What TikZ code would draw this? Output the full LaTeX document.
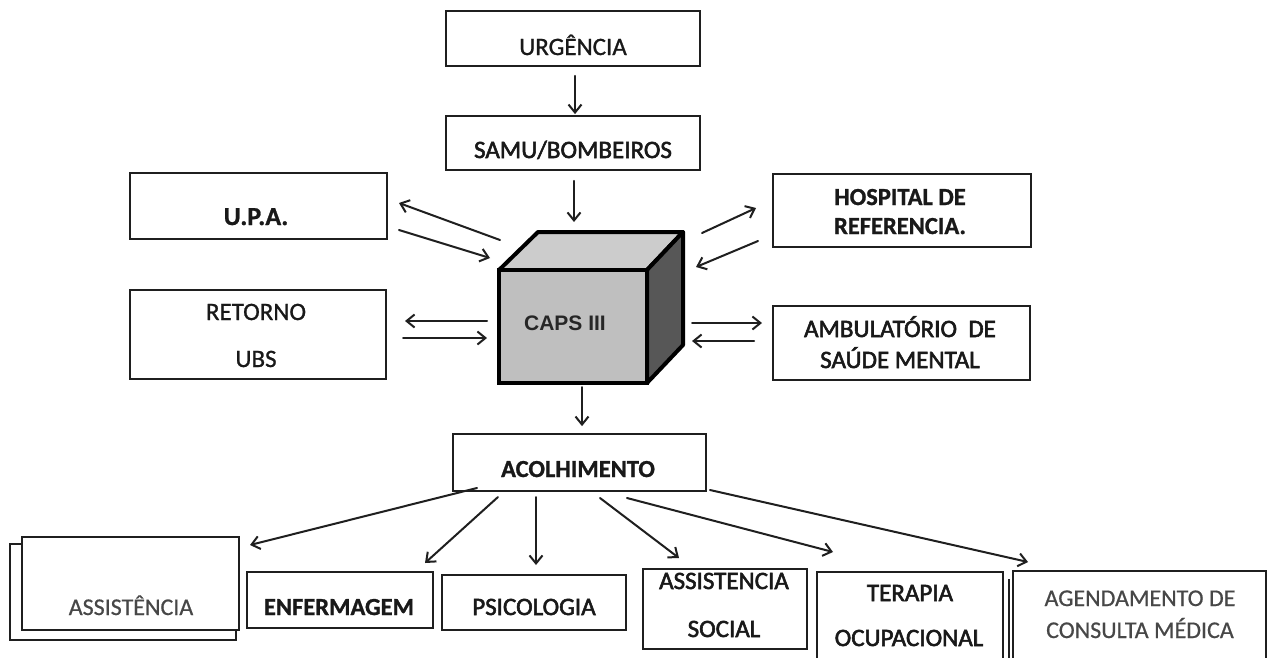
\documentclass[tikz,border=0pt]{standalone}
\usepackage{fontspec}
\setmainfont{Carlito}
\newfontfamily\capsfont{Liberation Sans}
\usetikzlibrary{arrows.meta}
\begin{document}
\begin{tikzpicture}[x=1pt,y=-1pt,
  box/.style={draw=black!88, line width=1.8pt, rectangle, inner sep=0pt, fill=white},
  lbl/.style={anchor=base, inner sep=0pt, text=black!90, font=\fontsize{25}{28}\selectfont\addfontfeature{FakeBold=1}},
  lblm/.style={lbl, font=\fontsize{25}{28}\selectfont\addfontfeature{FakeBold=2.2}},
  lblb/.style={lbl, font=\fontsize{24.5}{28}\selectfont\bfseries\addfontfeature{FakeBold=1}},
  lbll/.style={lbl, text=black!72, font=\fontsize{24}{28}\selectfont\addfontfeature{FakeBold=0.6}},
  arr/.style={draw=black!88, line width=2pt, line cap=round,
    -{Straight Barb[length=8pt,width=13pt,line width=2pt]}},
  cubeline/.style={draw=black, line width=4pt, line join=round}
]
\clip (0,0) rectangle (1273,657);
\fill[white] (0,0) rectangle (1273,657);

% ---- top boxes
\node[box, minimum width=254pt, minimum height=55pt] (urg) at (573,38.5) {};
\node[lbl] (urgt) at (573,55) {URGÊNCIA};
\node[box, minimum width=254pt, minimum height=54pt] (samu) at (573,143) {};
\node[lblm] (samut) at (573,158) {SAMU/BOMBEIROS};

% ---- side boxes
\node[box, minimum width=257pt, minimum height=66pt] (upa) at (258.5,206) {};
\node[lblb, font=\fontsize{26}{28}\selectfont\bfseries\addfontfeature{FakeBold=1}] (upat) at (256,225) {U.P.A.};
\node[box, minimum width=256pt, minimum height=89pt] (ret) at (258,334.5) {};
\node[lbl] (rett1) at (256,320) {RETORNO};
\node[lbl] (rett2) at (256,367) {UBS};
\node[box, minimum width=258pt, minimum height=73pt] (hosp) at (902,210.5) {};
\node[lblb] (hospt1) at (900,205) {HOSPITAL DE};
\node[lblb] (hospt2) at (900,234) {REFERENCIA.};
\node[box, minimum width=257pt, minimum height=74pt] (amb) at (901.5,343) {};
\node[lblm] (ambt1) at (900,337) {AMBULATÓRIO\ \ DE};
\node[lblm] (ambt2) at (900,368) {SAÚDE MENTAL};

% ---- cube
\path[cubeline, fill=black!20] (499,270) -- (538,232) -- (683,232) -- (647,270) -- cycle;
\path[cubeline, fill=black!66] (647,270) -- (683,232) -- (683,345) -- (647,383) -- cycle;
\node[rectangle, draw=black, line width=4pt, fill=black!25, minimum width=148pt, minimum height=113pt, inner sep=0pt] (cube) at (573,326.5) {};
\node[anchor=base, inner sep=0pt, font=\capsfont\bfseries\fontsize{21}{24}\selectfont, text=black!85] (capst) at (565,330) {CAPS III};
\coordinate (cubetop) at (574,232);

% ---- acolhimento
\node[box, minimum width=253pt, minimum height=57pt] (acol) at (579.5,462.5) {};
\node[lblb] (acolt) at (578,477) {ACOLHIMENTO};

% ---- bottom boxes
\node[box, minimum width=226pt, minimum height=96pt] (asstout) at (123,592) {};
\node[box, minimum width=217pt, minimum height=93pt] (asst) at (130.5,583.5) {};
\node[lbll] (asstt) at (131,615) {ASSISTÊNCIA};
\node[box, minimum width=186pt, minimum height=56pt] (enf) at (340,600) {};
\node[lblb] (enft) at (339,615) {ENFERMAGEM};
\node[box, minimum width=184pt, minimum height=55pt] (psi) at (534,602.5) {};
\node[lblm] (psit) at (534,615) {PSICOLOGIA};
\node[box, minimum width=164pt, minimum height=80pt] (soc) at (725,609) {};
\node[lblm] (soct1) at (724,589) {ASSISTENCIA};
\node[lblm] (soct2) at (724,637) {SOCIAL};
\node[box, minimum width=186pt, minimum height=108pt] (ter) at (910,626) {};
\node[lblm] (tert1) at (910,601) {TERAPIA};
\node[lblm] (tert2) at (909,646) {OCUPACIONAL};
\node[box, minimum width=253pt, minimum height=119pt] (ag) at (1139.5,630.5) {};
\draw[draw=black!88, line width=1.8pt] ([xshift=-3pt,yshift=-9pt]ag.north west) -- ([xshift=-3pt]ag.south west);
\node[lbll] (agt1) at (1140,606) {AGENDAMENTO DE};
\node[lbll] (agt2) at (1140,638) {CONSULTA MÉDICA};

% ---- arrow end coordinates
\coordinate (u1a) at (500,240); \coordinate (u1b) at (399,203);
\coordinate (u2a) at (399,230); \coordinate (u2b) at (490,258);
\coordinate (r1a) at (487,321); \coordinate (r1b) at (405,321);
\coordinate (r2a) at (403,338); \coordinate (r2b) at (487,338);
\coordinate (h1a) at (702,233); \coordinate (h1b) at (756,208);
\coordinate (h2a) at (758,241); \coordinate (h2b) at (696,267);
\coordinate (m1a) at (692,323); \coordinate (m1b) at (762,323);
\coordinate (m2a) at (754,341); \coordinate (m2b) at (692,341);

\coordinate (a1a) at (477,488); \coordinate (a1b) at (250,545);
\coordinate (a2a) at (498,497); \coordinate (a2b) at (425,563);
\coordinate (a3a) at (536,497); \coordinate (a3b) at (536,565);
\coordinate (a4a) at (600,498); \coordinate (a4b) at (679,558);
\coordinate (a5a) at (627,498); \coordinate (a5b) at (833,552);
\coordinate (a6a) at (710,490); \coordinate (a6b) at (1028,562);

% ---- connectors
\draw[arr, shorten <=9pt, shorten >=1pt] ([xshift=2pt]urg.south) -- ([xshift=2pt]samu.north);
\draw[arr, shorten <=10pt, shorten >=10pt] ([xshift=1pt]samu.south) -- (cubetop);
\draw[arr, shorten <=2pt, shorten >=7pt] ([xshift=9pt]cube.south) -- ([xshift=2.5pt]acol.north);

\draw[arr] (u1a) -- (u1b);
\draw[arr] (u2a) -- (u2b);
\draw[arr] (r1a) -- (r1b);
\draw[arr] (r2a) -- (r2b);
\draw[arr] (h1a) -- (h1b);
\draw[arr] (h2a) -- (h2b);
\draw[arr] (m1a) -- (m1b);
\draw[arr] (m2a) -- (m2b);

\draw[arr] (a1a) -- (a1b);
\draw[arr] (a2a) -- (a2b);
\draw[arr] (a3a) -- (a3b);
\draw[arr] (a4a) -- (a4b);
\draw[arr] (a5a) -- (a5b);
\draw[arr] (a6a) -- (a6b);
\end{tikzpicture}
\end{document}
